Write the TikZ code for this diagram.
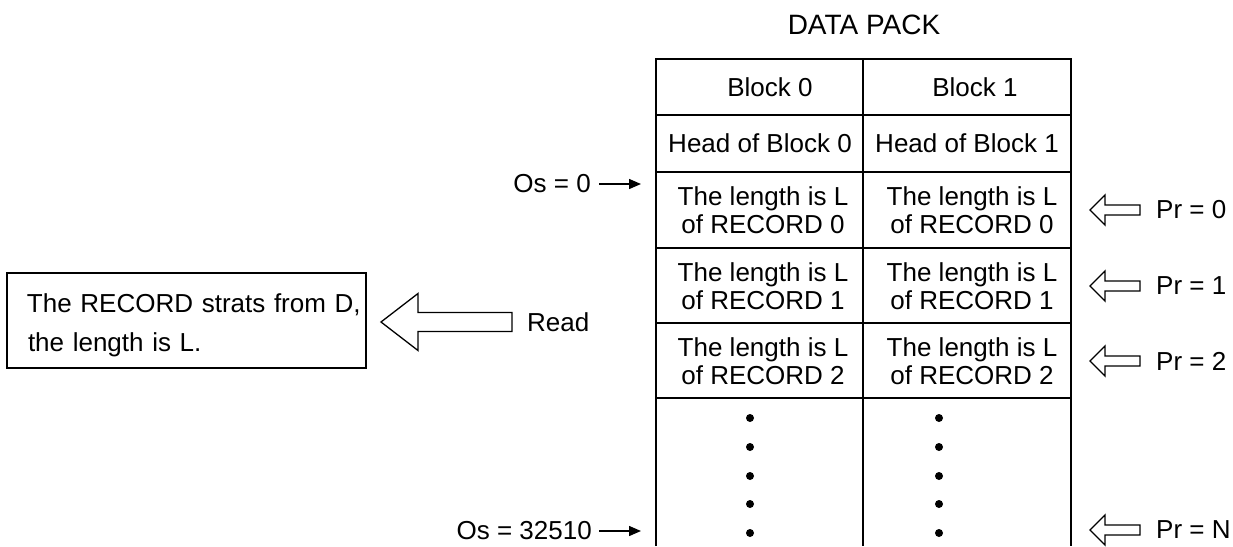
\documentclass[tikz,border=0pt]{standalone}
\usepackage{fontspec}
\setmainfont{Liberation Sans}
\usetikzlibrary{arrows.meta,calc}
\begin{document}
\begin{tikzpicture}[x=1pt,y=-1pt,
  every node/.style={inner sep=0pt, font=\fontsize{26}{28}\selectfont},
  celltext/.style={align=center},
  grid/.style={line width=2pt},
  hollow/.style={draw, line width=1.3pt, fill=white, line join=miter},
  osarrow/.style={line width=1.4pt, -{Triangle[length=12pt,width=10pt]}},
  dotmark/.style={fill=black, draw=none},
]
\useasboundingbox (0,0) rectangle (1233,546);

% title
\node[font=\fontsize{28}{30}\selectfont] (title) at (864,25) {DATA PACK};

% table grid
\draw[grid] (656,546) -- (656,59) -- (1071,59) -- (1071,546);
\draw[grid] (863,59) -- (863,546);
\foreach \yy in {115,172,248,323,398} \draw[grid] (656,\yy) -- (1071,\yy);

% cell texts
\node[celltext] (b0) at (770,87) {Block 0};
\node[celltext] (b1) at (975,87) {Block 1};
\node[celltext] (h0) at (760,143.5) {Head of Block 0};
\node[celltext] (h1) at (967,143.5) {Head of Block 1};
\node[celltext] (r00) at (763,210) {The length is L\\ of RECORD 0};
\node[celltext] (r01) at (972,210) {The length is L\\ of RECORD 0};
\node[celltext] (r10) at (763,286) {The length is L\\ of RECORD 1};
\node[celltext] (r11) at (972,286) {The length is L\\ of RECORD 1};
\node[celltext] (r20) at (763,361) {The length is L\\ of RECORD 2};
\node[celltext] (r21) at (972,361) {The length is L\\ of RECORD 2};

% dots
\foreach \yy in {418,447,476,504,533} {
  \fill[dotmark] (750,\yy) circle (4);
  \fill[dotmark] (939,\yy) circle (4);
}

% offset labels and arrows
\node[anchor=east] (os0) at (591,184) {Os = 0};
\coordinate (os0tip) at (641,184);
\draw[osarrow] ([xshift=8pt]os0.east) -- (os0tip);
\node[anchor=east] (osn) at (592,531) {Os = 32510};
\coordinate (osntip) at (641,531);
\draw[osarrow] ([xshift=7pt]osn.east) -- (osntip);

% pointer labels and hollow arrows
\foreach \yy/\lab/\nm in {210/0/p0,286/1/p1,361/2/p2,530/N/pn} {
  \node[anchor=west] (\nm) at (1156,\yy) {Pr = \lab};
  \draw[hollow] ($(\nm.west)+(-16,-5)$) -- ++(-35,0) -- ++(0,-10) -- ++(-15,15)
     -- ++(15,15) -- ++(0,-10) -- ++(35,0) -- cycle;
}

% record box
\node[draw, grid, inner xsep=7pt, text width=345pt, minimum height=95pt,
      align=left, font=\fontsize{26}{39}\selectfont] (rbox) at (186.5,320.5)
  {\rule{0pt}{29pt}\hspace*{13pt}\mbox{The RECORD strats from D,}\\\hspace*{14pt}\mbox{the length is L.}};

% read arrow
\node[anchor=west] (read) at (527,322) {Read};
\draw[hollow] ($(read.west)+(-15,-9.5)$) -- ++(-94,0) -- ++(0,-19) -- ++(-37,28.5)
   -- ++(37,28.5) -- ++(0,-19) -- ++(94,0) -- cycle;
\end{tikzpicture}
\end{document}
